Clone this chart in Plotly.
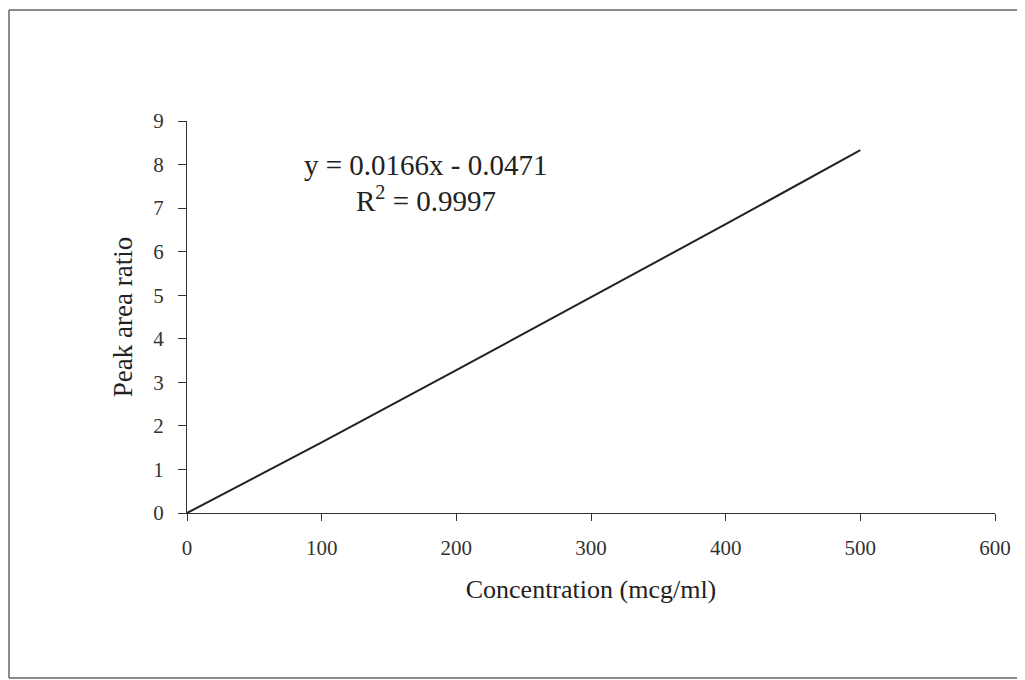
import plotly.graph_objects as go

# Data
concentration = [0, 100, 200, 300, 400, 500]
peak_area_ratio = [0.0, 1.62, 3.28, 4.95, 6.63, 8.33]

x_ticks = [0, 100, 200, 300, 400, 500, 600]
y_ticks = [0, 1, 2, 3, 4, 5, 6, 7, 8, 9]

equation_text = "y = 0.0166x - 0.0471"
r2_text = "R<sup>2</sup> = 0.9997"

FONT = "Liberation Serif, Times New Roman, serif"
AXIS_COLOR = "#333333"
FRAME = dict(color="#666666", width=1.5)

fig = go.Figure()
fig.add_trace(go.Scatter(
    x=concentration, y=peak_area_ratio, mode="lines",
    line=dict(color="#222222", width=2), showlegend=False, hoverinfo="skip",
))

fig.update_layout(
    width=1017, height=672,
    margin=dict(l=179, r=30, t=113, b=167),
    paper_bgcolor="white", plot_bgcolor="white",
    font=dict(family=FONT, color="#222222"),
    xaxis=dict(
        range=[0, 600], tickvals=x_ticks, ticktext=[str(v) for v in x_ticks],
        showgrid=False, zeroline=False, showline=True, linecolor=AXIS_COLOR, linewidth=1,
        ticks="outside", ticklen=7, tickcolor=AXIS_COLOR, tickwidth=1,
        ticklabelstandoff=9,
        tickfont=dict(family=FONT, size=21, color="#333333"),
        title=dict(text="Concentration (mcg/ml)", font=dict(family=FONT, size=26, color="#222222"), standoff=20),
    ),
    yaxis=dict(
        range=[0, 9], tickvals=y_ticks, ticktext=[str(v) for v in y_ticks],
        showgrid=False, zeroline=False, showline=True, linecolor=AXIS_COLOR, linewidth=1,
        ticks="outside", ticklen=8, tickcolor=AXIS_COLOR, tickwidth=1,
        ticklabelstandoff=10,
        tickfont=dict(family=FONT, size=21, color="#333333"),
        title=dict(text="Peak area ratio", font=dict(family=FONT, size=27, color="#222222"), standoff=12),
    ),
    annotations=[
        dict(x=177.7, y=8.0, xref="x", yref="y", text=equation_text, showarrow=False,
             font=dict(family=FONT, size=29, color="#222222"), xanchor="center", yanchor="middle"),
        dict(x=177.7, y=7.22, xref="x", yref="y", text=r2_text, showarrow=False,
             font=dict(family=FONT, size=29, color="#222222"), xanchor="center", yanchor="middle"),
    ],
    shapes=[
        # outer frame of the scanned figure (top, left, bottom edges)
        dict(type="line", xref="paper", yref="paper", x0=-0.2203, x1=1.06, y0=1.2832, y1=1.2832, line=FRAME),
        dict(type="line", xref="paper", yref="paper", x0=-0.2203, x1=-0.2203, y0=-0.4209, y1=1.2832, line=FRAME),
        dict(type="line", xref="paper", yref="paper", x0=-0.2203, x1=1.06, y0=-0.4209, y1=-0.4209, line=FRAME),
    ],
)

fig.write_html("out.html")
